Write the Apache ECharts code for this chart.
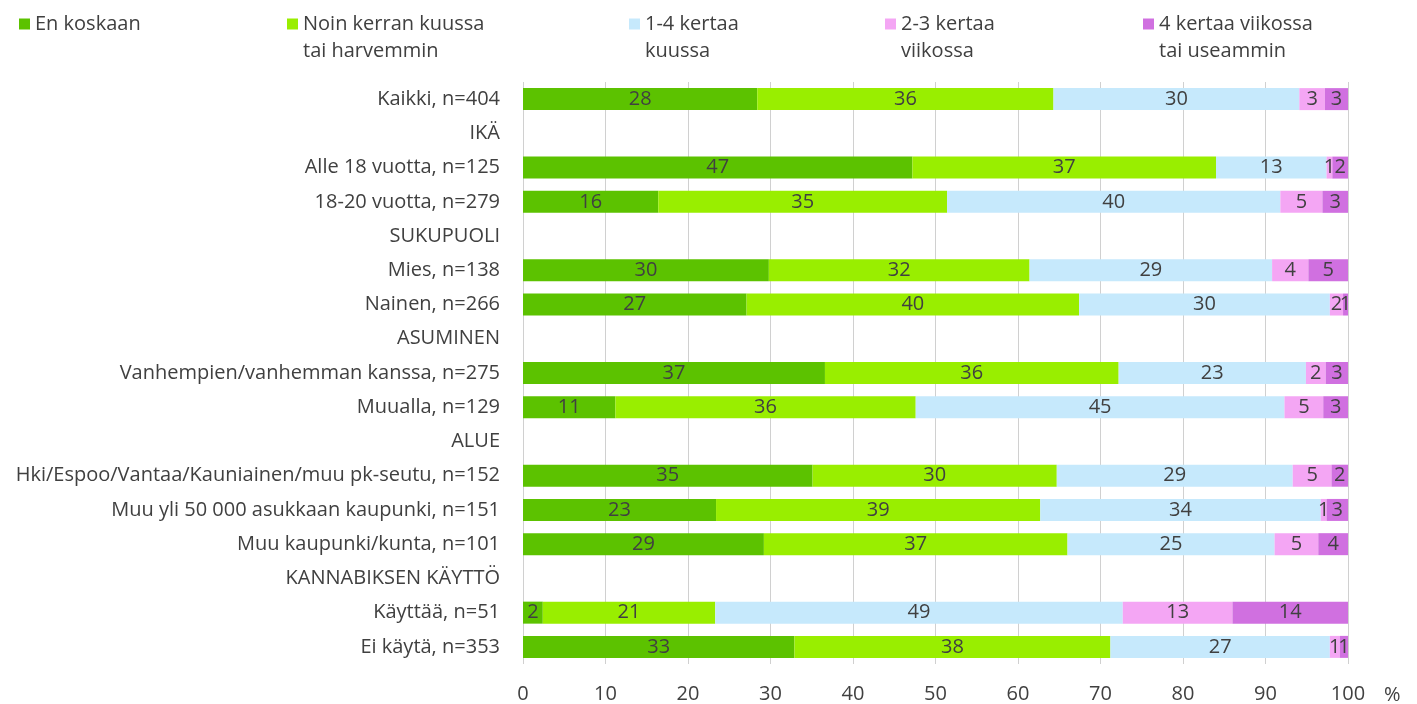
<!DOCTYPE html>
<html><head><meta charset="utf-8">
<script src="https://cdn.jsdelivr.net/npm/echarts@6/dist/echarts.min.js"></script>
<style>html,body{margin:0;padding:0;background:#fff}#c{width:1417px;height:704px}</style>
</head><body><div id="c"></div>
<script>
const categories = [
  'Kaikki, n=404', 'IKÄ', 'Alle 18 vuotta, n=125', '18-20 vuotta, n=279',
  'SUKUPUOLI', 'Mies, n=138', 'Nainen, n=266',
  'ASUMINEN', 'Vanhempien/vanhemman kanssa, n=275', 'Muualla, n=129',
  'ALUE', 'Hki/Espoo/Vantaa/Kauniainen/muu pk-seutu, n=152', 'Muu yli 50 000 asukkaan kaupunki, n=151', 'Muu kaupunki/kunta, n=101',
  'KANNABIKSEN KÄYTTÖ', 'Käyttää, n=51', 'Ei käytä, n=353'
];
const seriesNames = ['En koskaan', 'Noin kerran kuussa tai harvemmin', '1-4 kertaa kuussa', '2-3 kertaa viikossa', '4 kertaa viikossa tai useammin'];
const legendLabels = ['En koskaan', 'Noin kerran kuussa\ntai harvemmin', '1-4 kertaa\nkuussa', '2-3 kertaa\nviikossa', '4 kertaa viikossa\ntai useammin'];
const enKoskaan       = [28.4, null, 47.2, 16.4, null, 29.8, 27.1, null, 36.6, 11.2, null, 35.1, 23.4, 29.2, null, 2.4, 32.9];
const noinKerran      = [35.9, null, 36.8, 35.0, null, 31.6, 40.3, null, 35.6, 36.4, null, 29.6, 39.3, 36.8, null, 20.9, 38.3];
const kertaaKuussa    = [29.8, null, 13.4, 40.4, null, 29.4, 30.4, null, 22.7, 44.7, null, 28.6, 34.0, 25.1, null, 49.4, 26.6];
const viikossa23      = [3.1, null, 0.7, 5.1, null, 4.4, 1.6, null, 2.4, 4.7, null, 4.7, 0.7, 5.3, null, 13.3, 1.2];
const viikossa4       = [2.8, null, 1.9, 3.1, null, 4.8, 0.6, null, 2.7, 3.0, null, 2.0, 2.6, 3.6, null, 14.0, 1.0];
const xMin = 0, xMax = 100, xInterval = 10;
const axisUnit = '%';

const colors = ['#5cc200', '#99ee00', '#c6e9fc', '#f4a6f4', '#d070e0'];
const values = [enKoskaan, noinKerran, kertaaKuussa, viikossa23, viikossa4];
const FONT = '"Open Sans"';
const FS = 20;
const TXT = '#404040';

const LH = 27;
const legendIconLeft = [19, 287, 629, 885, 1143];
const legends = seriesNames.map((n, i) => {
  const twoLine = legendLabels[i].indexOf('\n') >= 0;
  return {
    data: [n], left: legendIconLeft[i], top: twoLine ? 24 - 1.5 * LH : 24 - 0.5 * LH,
    padding: 0,
    icon: 'rect', itemWidth: 11, itemHeight: 11,
    formatter: () => (twoLine ? '\n' : '') + legendLabels[i],
    textStyle: { fontFamily: FONT, fontSize: FS, color: TXT, lineHeight: LH },
    selectedMode: false
  };
});

const series = seriesNames.map((n, i) => ({
  name: n, type: 'bar', stack: 'all', barWidth: 22,
  itemStyle: { color: colors[i] },
  label: {
    show: true, position: 'inside', color: TXT, fontFamily: FONT, fontSize: FS,
    formatter: p => p.value == null ? '' : String(Math.round(p.value))
  },
  data: values[i]
}));

const chart = echarts.init(document.getElementById('c'), null, { renderer: 'canvas' });
chart.setOption({
  animation: false,
  color: colors,
  legend: legends,
  grid: { left: 523, right: 69, top: 82, bottom: 40, containLabel: false, outerBoundsMode: 'none' },
  xAxis: {
    type: 'value', min: xMin, max: xMax, interval: xInterval,
    name: axisUnit, nameLocation: 'end', nameGap: 36,
    nameTextStyle: { fontFamily: FONT, fontSize: FS, color: TXT, verticalAlign: 'top', lineHeight: 62 },
    axisLine: { show: false }, axisTick: { show: false },
    axisLabel: { fontFamily: FONT, fontSize: FS, color: TXT, margin: 20 },
    splitLine: { show: true, lineStyle: { color: '#d0d0d0', width: 1 } }
  },
  yAxis: {
    type: 'category', data: categories, inverse: true,
    axisLine: { show: false }, axisTick: { show: false },
    axisLabel: { fontFamily: FONT, fontSize: FS, color: TXT, margin: 23 }
  },
  series: series
});
</script></body></html>
